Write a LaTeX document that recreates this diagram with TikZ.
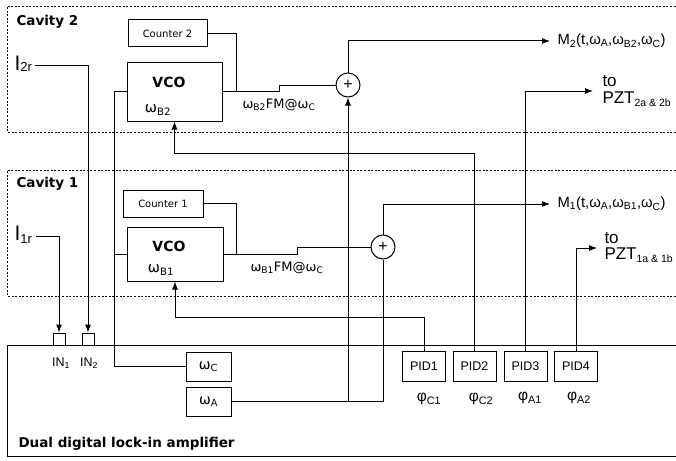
\documentclass[tikz,border=0pt]{standalone}
\usepackage{fontspec}
\setmainfont{Liberation Sans}
\newfontfamily\dvs{DejaVu Sans}
\usetikzlibrary{arrows.meta}
\newcommand\fs[1]{\fontsize{#1}{#1}\selectfont}
\newcommand\sbs[1]{\textsubscript{#1}}
\newcommand\lsub[2]{\raisebox{-3pt}{\fs{#1}#2}}
\begin{document}
\begin{tikzpicture}[x=1pt,y=-1pt,line width=1pt,
  blk/.style={draw,inner sep=0pt},
  arr/.style={-{Latex[length=8pt,width=6pt]}},
  cav/.style={line width=0.9pt,dash pattern=on 2pt off 1.6pt},
  lbl/.style={inner sep=0pt}]
\useasboundingbox (0,0) rectangle (676,460);
\clip (0,0) rectangle (676,460);
\fill[white] (0,0) rectangle (676,460);

% cavity frames and amplifier
\draw[cav] (690,6) -- (7,6) -- (7,132) -- (690,132);
\draw[cav] (690,170) -- (7,170) -- (7,296) -- (690,296);
\draw (690,345) -- (7,345) -- (7,456) -- (690,456);
\node[lbl,anchor=west,font=\dvs\bfseries\fs{13.5}] (cav2) at (16,22) {Cavity 2};
\node[lbl,anchor=west,font=\dvs\bfseries\fs{13.5}] (cav1) at (16,184) {Cavity 1};
\node[lbl,anchor=west,font=\dvs\bfseries\fs{13.5}] (amp) at (18,444) {Dual digital lock-in amplifier};

% cavity 2 blocks
\node[blk,minimum width=79,minimum height=27,font=\dvs\fs{10}] (cnt2) at (167.5,33.5) {Counter 2};
\node[blk,minimum width=95,minimum height=59] (vco2) at (174.5,91.5) {};
\node[lbl,font=\dvs\bfseries\fs{14}] (vco2t) at (169,82) {VCO};
\node[lbl,font=\dvs\fs{14.5}] (vco2w) at (158,110) {ω\sbs{B2}};
\node[lbl,anchor=west,font=\dvs\fs{13}] (fm2) at (242,105) {ω\sbs{B2}FM@ω\sbs{C}};
\node[draw,circle,minimum size=24,inner sep=0pt,font=\fs{16}] (s2) at (348,85) {+};

% cavity 1 blocks
\node[blk,minimum width=80,minimum height=27,font=\dvs\fs{10}] (cnt1) at (163,203.5) {Counter 1};
\node[blk,minimum width=96,minimum height=54] (vco1) at (175,254) {};
\node[lbl,font=\dvs\bfseries\fs{14}] (vco1t) at (169,246) {VCO};
\node[lbl,font=\dvs\fs{14.5}] (vco1w) at (161,270) {ω\sbs{B1}};
\node[lbl,anchor=west,font=\dvs\fs{13}] (fm1) at (250,268) {ω\sbs{B1}FM@ω\sbs{C}};
\node[draw,circle,minimum size=24,inner sep=0pt,font=\fs{16}] (s1) at (383,247) {+};

% outputs
\node[anchor=west,inner xsep=7pt,inner ysep=0pt,font=\fs{14.8}] (m2) at (550,41) {M\sbs{2}(t,ω\sbs{A},ω\sbs{B2},ω\sbs{C})};
\node[anchor=west,inner xsep=7pt,inner ysep=0pt,font=\fs{14.8}] (m1) at (550,204) {M\sbs{1}(t,ω\sbs{A},ω\sbs{B1},ω\sbs{C})};
\node[anchor=west,inner xsep=9pt,inner ysep=0pt,align=left,font=\fontsize{17}{17}\selectfont] (pzt2) at (593,91) {to\\PZT\lsub{10.5}{2a \& 2b}};
\node[anchor=west,inner xsep=7pt,inner ysep=0pt,align=left,font=\fontsize{17}{16}\selectfont] (pzt1) at (597,248) {to\\PZT\lsub{10.5}{1a \& 1b}};

% inputs
\node[lbl,anchor=west] (i2) at (14,64) {\fs{21}I\raisebox{-1.5pt}{\fs{13}2r}};
\node[lbl,anchor=west] (i1) at (14,235) {\fs{21}I\raisebox{-2.5pt}{\fs{13}1r}};
\node[blk,minimum size=12] (in1) at (59,339) {};
\node[blk,minimum size=12] (in2) at (88,339) {};
\node[lbl,font=\fs{12.5}] (in1l) at (61,363) {IN\sbs{1}};
\node[lbl,font=\fs{12.5}] (in2l) at (89,363) {IN\sbs{2}};

% amplifier blocks
\node[blk,minimum width=45,minimum height=29,font=\dvs\fs{14}] (wc) at (208.5,366.5) {ω\sbs{C}};
\node[blk,minimum width=45,minimum height=29,font=\dvs\fs{14}] (wa) at (208.5,401.5) {ω\sbs{A}};
\node[blk,minimum width=43,minimum height=30,font=\fs{12.5}] (pid1) at (424,366) {PID1};
\node[blk,minimum width=43,minimum height=30,font=\fs{12.5}] (pid2) at (474.5,366) {PID2};
\node[blk,minimum width=43,minimum height=30,font=\fs{12.5}] (pid3) at (525.5,366) {PID3};
\node[blk,minimum width=43,minimum height=30,font=\fs{12.5}] (pid4) at (576,366) {PID4};
\node[lbl,font=\fs{15.5}] (p1) at (429,399) {φ\sbs{C1}};
\node[lbl,font=\fs{15.5}] (p2) at (481,399) {φ\sbs{C2}};
\node[lbl,font=\fs{15.5}] (p3) at (530,398) {φ\sbs{A1}};
\node[lbl,font=\fs{15.5}] (p4) at (579,398) {φ\sbs{A2}};

% helper coordinates
\coordinate (j2) at (236,92);
\coordinate (j1) at (236,254);
\coordinate (cx) at (114,366.5);
\coordinate (f2) at (174.5,153);
\coordinate (f1) at (175,317);

% connectors
\draw (cnt2.east) -| (j2);
\draw (vco2.east) -- (279,91.5) |- (s2.west);
\draw (cnt1.east) -| (j1);
\draw (vco1.east) -- (297,254) |- (s1.west);
\draw (wc.west) -- (cx) |- (vco2.west);
\draw (vco1.west) -- (vco1.west -| cx);
\draw (wa.east) -| (s1.south);
\draw[arr] (wa.east -| s2.south) -- (s2.south);
\draw[arr] (s2.north) |- (m2.west);
\draw[arr] (s1.north) |- (m1.west);
\draw[arr] (pid2.north) |- (f2) -- (vco2.south);
\draw[arr] (pid1.north) |- (f1) -- (vco1.south);
\draw[arr] (pid3.north) |- (pzt2.west);
\draw[arr] (pid4.north) |- (pzt1.west);
\draw[arr] (i2.east) ++(3,1) -| (in2.north);
\draw[arr] (i1.east) ++(4,1) -| (in1.north);
\end{tikzpicture}
\end{document}
